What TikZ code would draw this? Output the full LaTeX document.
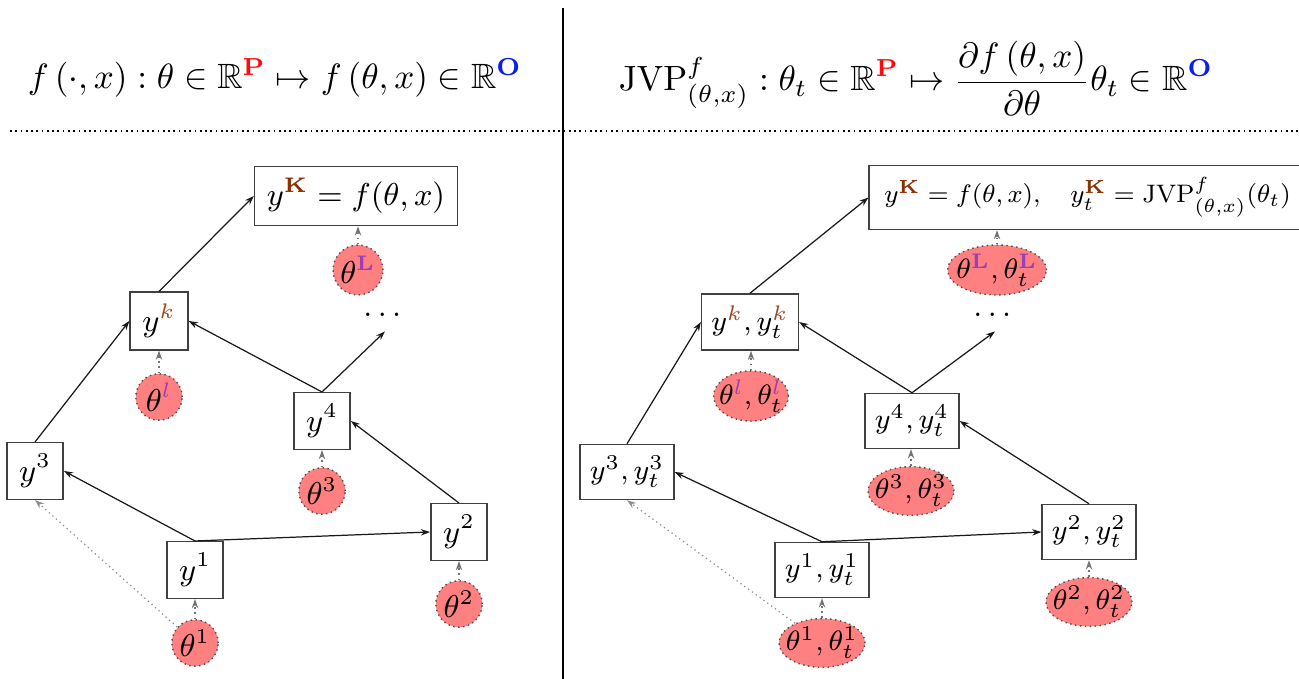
\documentclass[tikz,border=0pt]{standalone}
\usepackage{amsmath, amssymb}
\usepackage{graphicx}
\usetikzlibrary{positioning, arrows.meta, shapes.geometric}
\definecolor{pred}{HTML}{FF0A0A}
\definecolor{oblue}{HTML}{0A1EF0}
\definecolor{kbrown}{HTML}{8B2E00}
\definecolor{kbrownlt}{HTML}{A0461E}
\definecolor{lpurple}{HTML}{9B3FB5}
\definecolor{prmfill}{HTML}{FF8080}
\newcommand{\colP}{{\color{pred}\mathbf{P}}}
\newcommand{\colO}{{\color{oblue}\mathbf{O}}}
\newcommand{\colK}{{\color{kbrown}\mathbf{K}}}
\newcommand{\colL}{{\color{lpurple}\mathbf{L}}}
\newcommand{\colk}{{\color{kbrownlt}k}}
\newcommand{\coll}{{\color{lpurple}l}}

\begin{document}
\begin{tikzpicture}[>={Stealth[length=2.6pt,width=1.8pt]},
        blk/.style={rectangle, draw=black!75, fill=white, font=\small, inner xsep=3.5pt, minimum height=14.8pt, minimum width=15pt},
        jblk/.style={blk, font=\footnotesize, inner xsep=2.8pt},
        prm/.style={circle, draw=black!70, densely dotted, fill=prmfill, font=\small, inner sep=0.5pt, minimum size=13.2pt},
        prme/.style={ellipse, draw=black!70, densely dotted, fill=prmfill, font=\footnotesize, inner xsep=-1.6pt, inner ysep=0.4pt},
        flow/.style={->, black!90, line width=0.35pt},
        feed/.style={->, black!55, densely dotted, line width=0.45pt}]
        \useasboundingbox (0,0) rectangle (12.99,6.79);
        % headers and separators
        \node (hf) at (2.75,6.01) {$f\left(\cdot, x\right) : \theta \in \mathbb{R}^{\colP} \mapsto f\left(\theta, x\right) \in \mathbb{R}^{\colO}$};
        \node (hj) at (9.16,6.01) {$\displaystyle \mathrm{JVP}^{f}_{(\theta,x)} : \theta_t \in \mathbb{R}^{\colP} \mapsto \frac{\partial f\left(\theta, x\right)}{\partial \theta}\theta_t \in \mathbb{R}^{\colO}$};
        \draw[black, line width=0.6pt] (5.63,6.71) -- (5.63,0);
        \draw[black, densely dotted, line width=0.5pt] (0.10,5.48) -- (12.99,5.48);
        % left: forward pass
        \node[blk] (yK) at (3.56,4.83) {$y^{\colK} = f(\theta, x)$};
        \node[prm] (tL) at (3.58,4.09) {$\theta^{\colL}$};
        \node[font=\small, inner sep=4pt] (dL) at (3.85,3.64) {$\dots$};
        \node[blk] (yk) at (1.59,3.58) {$y^{\colk}$};
        \node[prm] (tl) at (1.59,2.82) {$\theta^{\coll}$};
        \node[blk] (y4) at (3.22,2.58) {$y^4$};
        \node[prm] (t3) at (3.22,1.88) {$\theta^3$};
        \node[blk] (y3) at (0.35,2.08) {$y^3$};
        \node[blk] (y1) at (1.95,1.09) {$y^1$};
        \node[prm] (t1) at (1.95,0.36) {$\theta^1$};
        \node[blk] (y2) at (4.59,1.47) {$y^2$};
        \node[prm] (t2) at (4.59,0.75) {$\theta^2$};
        % right: forward pass with tangents
        \node[jblk, inner xsep=4.3pt, minimum height=15.6pt] (jyK) at (10.875,4.815) {\scalebox{0.9}{$y^{\colK} = f(\theta, x), \quad y_t^{\colK} = \mathrm{JVP}^{f}_{(\theta,x)}(\theta_t)$}};
        \node[prme] (jtL) at (9.97,4.09) {$\theta^{\colL}, \theta_t^{\colL}$};
        \node[font=\small, inner sep=4pt] (jdL) at (9.95,3.64) {$\dots$};
        \node[jblk] (jyk) at (7.50,3.57) {$y^{\colk}, y_t^{\colk}$};
        \node[prme] (jtl) at (7.51,2.83) {$\theta^{\coll}, \theta_t^{\coll}$};
        \node[jblk] (jy4) at (9.12,2.58) {$y^4, y_t^4$};
        \node[prme] (jt3) at (9.11,1.88) {$\theta^3, \theta_t^3$};
        \node[jblk] (jy3) at (6.27,2.07) {$y^3, y_t^3$};
        \node[jblk] (jy1) at (8.22,1.09) {$y^1, y_t^1$};
        \node[prme] (jt1) at (8.22,0.36) {$\theta^1, \theta_t^1$};
        \node[jblk] (jy2) at (10.89,1.47) {$y^2, y_t^2$};
        \node[prme] (jt2) at (10.89,0.77) {$\theta^2, \theta_t^2$};
        % connectors
        \foreach \p in {,j}{
          \draw[flow] (\p y3.north) -- (\p yk.west);
          \draw[flow] (\p yk.north) -- (\p yK.west);
          \draw[flow] (\p y1.north) -- (\p y3.east);
          \draw[flow] (\p y1.north) -- (\p y2.west);
          \draw[flow] (\p y2.north) -- (\p y4.east);
          \draw[flow] (\p y4.north) -- (\p yk.east);
          \draw[flow] (\p y4.north) -- (\p dL.south);
          \draw[feed, black!45, line width=0.35pt] (\p t1) -- (\p y3.south);
          \foreach \a/\b in {t1/y1, t2/y2, t3/y4, tl/yk, tL/yK}{\draw[feed] (\p\a) -- (\p\a |- \p\b.south);}
        }
      \end{tikzpicture}
\end{document}
